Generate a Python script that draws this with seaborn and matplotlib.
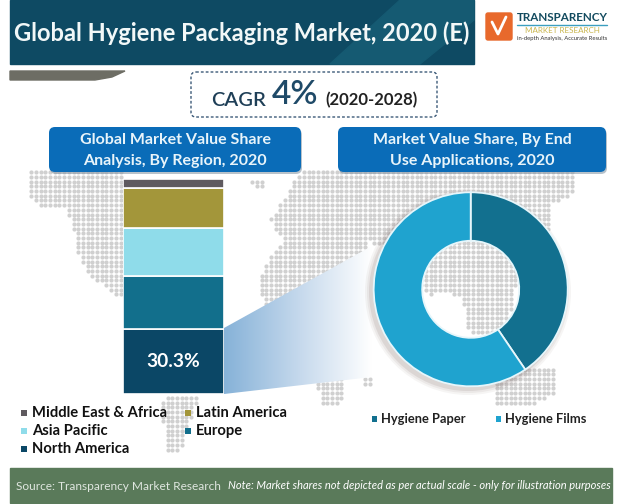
import numpy as np
import pandas as pd
import seaborn as sns
import matplotlib.pyplot as plt
from matplotlib.patches import FancyBboxPatch, Polygon, Wedge, Rectangle
from matplotlib.path import Path

# chart values
regions = ["North America", "Europe", "Asia Pacific", "Latin America", "Middle East & Africa"]
region_share = [30.3, 24.5, 22.4, 18.4, 4.4]
region_colors = ["#0b4766", "#126f8c", "#8fdcea", "#a3963a", "#5f5a5f"]
highlight_label = "30.3%"

applications = ["Hygiene Paper", "Hygiene Films"]
application_share = [40.5, 59.5]
application_colors = ["#12708f", "#1fa3cf"]

W, H = 620, 504

sns.set_theme(style="white")
plt.rcParams["font.family"] = ["Lato", "DejaVu Sans"]

fig = plt.figure(figsize=(W / 100, H / 100), dpi=100, facecolor="white")


def axes_px(x0, y0, x1, y1, **kw):
    return fig.add_axes([x0 / W, 1 - y1 / H, (x1 - x0) / W, (y1 - y0) / H], **kw)


# page layer in pixel coordinates
bg = axes_px(0, 0, W, H, zorder=0)
bg.set_xlim(0, W)
bg.set_ylim(H, 0)
bg.axis("off")

# dotted world map behind everything
land = [
    [(30, 172), (26, 190), (37, 205), (67, 210), (73, 230), (80, 260), (90, 275), (103, 285), (115, 298), (124, 298), (124, 172)],
    [(163, 394), (200, 394), (190, 420), (180, 453), (168, 453), (162, 420)],
    [(250, 178), (268, 178), (262, 188), (252, 186)],
    [(300, 172), (575, 172), (572, 195), (550, 205), (548, 235), (515, 290), (505, 335), (470, 335), (462, 300),
     (445, 290), (430, 296), (400, 260), (370, 240), (350, 300), (344, 385), (340, 405), (322, 405), (316, 385),
     (300, 345), (290, 320), (263, 303), (257, 283), (267, 260), (283, 240), (270, 220), (273, 217)],
    [(492, 367), (553, 367), (555, 395), (530, 405), (495, 405)],
    [(362, 378), (373, 378), (373, 386), (362, 386)],
]
gx, gy = np.meshgrid(np.arange(3, W, 4.7), np.arange(3, 460, 4.7))
pts = np.column_stack([gx.ravel(), gy.ravel()])
mask = np.zeros(len(pts), dtype=bool)
for poly in land:
    mask |= Path(poly).contains_points(pts)
bg.scatter(pts[mask, 0], pts[mask, 1], s=9, marker="o", color="#d0d0d0", linewidths=0, zorder=1)

# title banner
bg.add_patch(Rectangle((10, 0), 464, 64, color="#0e4a63", zorder=2))
bg.add_patch(Polygon([(330, 64), (400, 0), (474, 0), (474, 20), (420, 64)], color="#155a72", zorder=2))
bg.text(14, 33, "Global Hygiene Packaging Market, 2020 (E)", color="#f2f8f8", fontsize=17,
        fontweight="bold", va="center", ha="left", zorder=3)

# logo
bg.add_patch(FancyBboxPatch((486, 13), 26, 27, boxstyle="round,pad=0,rounding_size=2", color="#e8692c", zorder=2))
bg.plot([492, 498, 506], [22, 34, 17], color="white", lw=2, zorder=3)
bg.text(517, 17.5, "TRANSPARENCY", color="#134b5f", fontsize=8.4, fontweight="bold", va="center", zorder=3)
bg.plot([517, 607], [24.5, 24.5], color="#3c9fc0", lw=1, zorder=3)
bg.text(562, 30.5, "MARKET RESEARCH", color="#c9b64f", fontsize=5.8, ha="center", va="center", zorder=3)
bg.text(562, 38.5, "in-depth Analysis, Accurate Results", color="#333333", fontsize=4.2, ha="center", va="center", zorder=3)

# grey swoosh
bg.add_patch(Polygon([(10, 71), (125, 71), (112, 77), (95, 80), (10, 80)], color="#6d6d64", zorder=2))

# CAGR box
bg.add_patch(FancyBboxPatch((191, 72), 246, 45, boxstyle="round,pad=0,rounding_size=5", fc="white",
                            ec="#3c5a78", lw=1, ls=(0, (2, 1.5)), zorder=2))
bg.text(211, 100, "CAGR", color="#1f3f57", fontsize=14.5, va="center", fontweight="semibold", zorder=3)
bg.text(272, 95, "4%", color="#1f4a68", fontsize=24, va="center", fontweight="semibold", zorder=3)
bg.text(325, 100, "(2020-2028)", color="#222222", fontsize=12, va="center", fontweight="bold", zorder=3)

# blue header boxes
for x0, x1, line1, line2 in [
    (49, 301, "Global Market Value Share", "Analysis, By Region, 2020"),
    (338, 606, "Market Value Share, By End", "Use Applications, 2020"),
]:
    bg.add_patch(FancyBboxPatch((x0 + 1, 129), x1 - x0, 45, boxstyle="round,pad=0,rounding_size=6",
                                color="#8a9aa8", alpha=0.6, lw=0, zorder=2))
    bg.add_patch(FancyBboxPatch((x0, 127), x1 - x0, 45, boxstyle="round,pad=0,rounding_size=6",
                                color="#0a6cb8", lw=0, zorder=2))
    mid = (x0 + x1) / 2
    bg.text(mid, 140, line1, color="#e8f4fa", fontsize=11.5, fontweight="bold", ha="center", va="center", zorder=3)
    bg.text(mid, 161, line2, color="#e8f4fa", fontsize=11.5, fontweight="bold", ha="center", va="center", zorder=3)

# fading wedge from the North America segment to the donut
grad = np.linspace(0, 1, 256).reshape(1, -1)
im = bg.imshow(grad, extent=(224, 372, 394, 247), cmap=sns.blend_palette(["#86b2d8", "#c4d8ec", "#ffffff"], as_cmap=True),
               aspect="auto", zorder=2)
wedge = Polygon([(224, 328), (372, 246), (372, 377), (224, 394)], transform=bg.transData, fc="none", ec="none")
bg.add_patch(wedge)
im.set_clip_path(wedge)
bg.set_xlim(0, W)
bg.set_ylim(H, 0)

# donut shadow, ring only so the map still shows through the hole
for r, a in [(103, 0.06), (101, 0.08), (99, 0.12)]:
    bg.add_patch(Wedge((468, 292), r, 0, 360, width=r - 60, color="#6b5550", alpha=a, lw=0, zorder=2))

# footer
bg.add_patch(Rectangle((10, 468), 602, 35, color="#5a7a5a", zorder=2))
bg.text(16, 486, "Source: Transparency Market Research", color="#dfe6df", fontsize=8.6, va="center", zorder=3)
bg.text(228, 485.5, "Note: Market shares not depicted as per actual scale - only for illustration purposes",
        color="white", fontsize=8.0, style="italic", va="center", zorder=3)

# stacked region bar
ax_bar = axes_px(123, 179, 224, 394, zorder=3)
ax_bar.patch.set_alpha(0)
df_region = pd.DataFrame({"region": regions, "share": region_share, "color": region_colors})
df_region["bottom"] = df_region["share"].cumsum() - df_region["share"]
for i, row in df_region.iterrows():
    sns.barplot(x=[0], y=[row["share"]], bottom=row["bottom"], color=row["color"], saturation=1, width=1,
                edgecolor="white", linewidth=1.2, ax=ax_bar)
    if i == 0:
        ax_bar.bar_label(ax_bar.containers[0], labels=[highlight_label], label_type="center",
                         color="white", fontsize=13.8, fontweight="bold")
ax_bar.set_xlim(-0.5, 0.5)
ax_bar.set_ylim(0, sum(region_share))
ax_bar.axis("off")

# donut
ax_pie = axes_px(372.7, 191.3, 568.7, 387.3, zorder=3)
ax_pie.pie(application_share, colors=application_colors, startangle=90, counterclock=False, radius=1,
           wedgeprops={"width": 0.5, "edgecolor": "#e6f6fb", "linewidth": 1.3})
ax_pie.set_xlim(-1.01, 1.01)
ax_pie.set_ylim(-1.01, 1.01)
ax_pie.patch.set_alpha(0)

# legends
ax_leg = axes_px(0, 0, W, H, zorder=4)
ax_leg.set_xlim(0, W)
ax_leg.set_ylim(H, 0)
ax_leg.axis("off")
ax_leg.patch.set_alpha(0)
region_slots = {"Middle East & Africa": (24, 413), "Latin America": (188, 413), "Asia Pacific": (24, 431),
                "Europe": (188, 431), "North America": (24, 449)}
for name, color in zip(regions, region_colors):
    x, y = region_slots[name]
    ax_leg.add_patch(Rectangle((x - 3, y - 3), 6, 6, color=color, lw=0))
    ax_leg.text(x + 8, y, name, color="#111111", fontsize=10.6, fontweight="bold", va="center")
for name, color, x in zip(applications, application_colors, [374, 498]):
    ax_leg.add_patch(Rectangle((x - 2, 416), 4.5, 6, color=color, lw=0))
    ax_leg.text(x + 7, 419, name, color="#222222", fontsize=9.3, fontweight="bold", va="center")

fig.savefig("out.png", dpi=100)
